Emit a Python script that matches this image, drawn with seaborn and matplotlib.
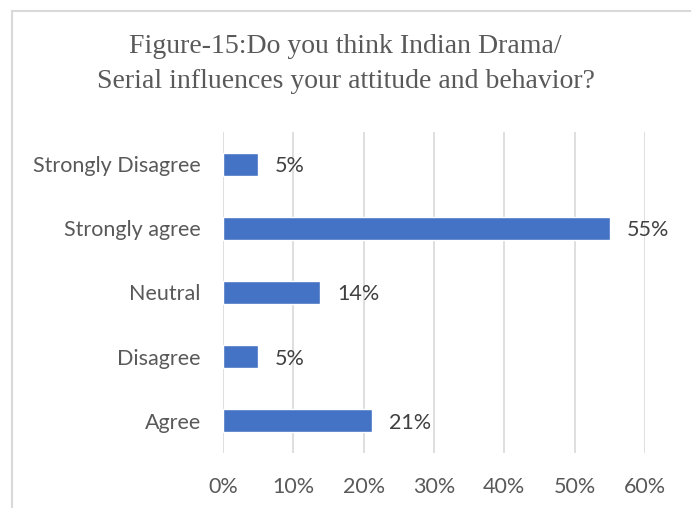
import matplotlib
matplotlib.use("Agg")
import matplotlib.pyplot as plt
import seaborn as sns
import pandas as pd
from matplotlib.patches import Rectangle
from matplotlib.ticker import FuncFormatter

categories = ["Strongly Disagree", "Strongly agree", "Neutral", "Disagree", "Agree"]
values = [0.05, 0.55, 0.138, 0.05, 0.212]
xticks = [0, 0.1, 0.2, 0.3, 0.4, 0.5, 0.6]
title = "Figure-15:Do you think Indian Drama/\nSerial influences your attitude and behavior?"

df = pd.DataFrame({"cat": categories, "val": values})

sns.set_style("white")
plt.rcParams["font.family"] = ["Lato", "DejaVu Sans"]

fig = plt.figure(figsize=(6.91, 5.08), dpi=100)
ax = fig.add_axes([223/691, 1-453/508, (645-223)/691, (453-132)/508])

sns.barplot(data=df, x="val", y="cat", orient="h", color="#4472C4", width=0.36,
            saturation=1, ax=ax, order=categories)

ax.set_xlim(0, 0.6)
ax.set_xticks(xticks)
ax.xaxis.set_major_formatter(FuncFormatter(lambda v, p: f"{v*100:.0f}%"))
ax.grid(axis="x", color="#d9d9d9", linewidth=1.2)
ax.set_axisbelow(True)
for s in ax.spines.values():
    s.set_visible(False)
ax.set_xlabel("")
ax.set_ylabel("")
ax.tick_params(axis="both", length=0, labelsize=15.5, colors="#595959")
ax.tick_params(axis="x", pad=17)
ax.tick_params(axis="y", pad=16)

for i, v in enumerate(values):
    ax.annotate(f"{v*100:.0f}%", xy=(v, i), xytext=(17, -2), textcoords="offset pixels",
                va="center", ha="left", fontsize=15.5, color="#404040")

fig.text(0.5, 1-64/508, title, ha="center", va="center", fontsize=20,
         family="Liberation Serif", color="#595959", linespacing=1.55)

fig.patches.append(Rectangle((12/691, -0.1), 2, 1.1 - 11/508, transform=fig.transFigure,
                             fill=False, edgecolor="#d9d9d9", linewidth=1.5))

fig.savefig("out.png", dpi=100)
